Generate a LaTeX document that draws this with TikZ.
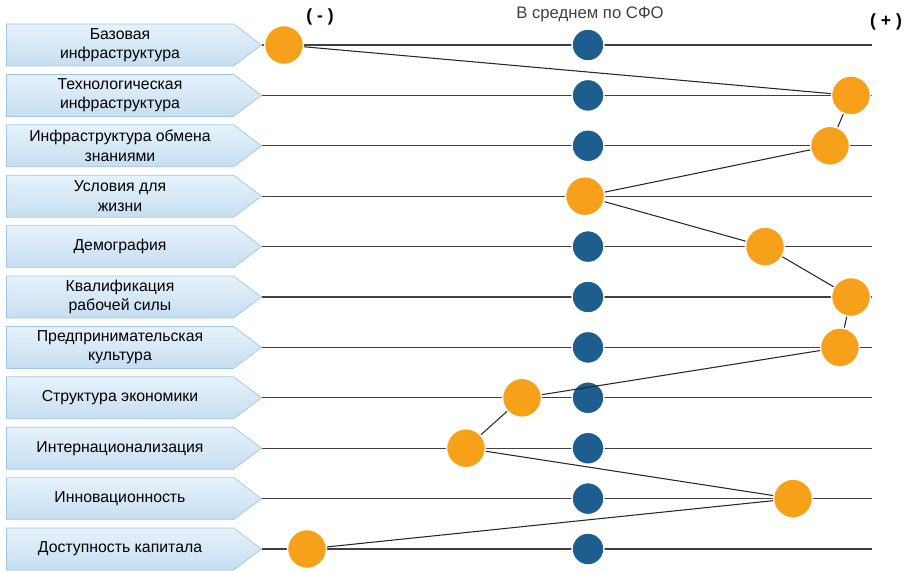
\documentclass[tikz,border=0pt]{standalone}
\usepackage{fontspec}
\setmainfont{Liberation Sans}
\usetikzlibrary{shapes.symbols}

\definecolor{boxtop}{HTML}{E6F2FB}
\definecolor{boxbot}{HTML}{C6DEF1}
\definecolor{boxline}{HTML}{9FC6E4}
\definecolor{sfoblue}{HTML}{1D5E8E}
\definecolor{regorange}{HTML}{F7A11B}

\tikzset{
  factor/.style={signal, signal to=east, signal pointer angle=74,
    draw=boxline, top color=boxtop, bottom color=boxbot,
    minimum width=5.1cm, minimum height=0.84cm, inner sep=1pt,
    align=center, anchor=east},
  rowline/.style={draw=black!75, line width=0.6pt},
  sfo/.style={circle, fill=sfoblue, draw=white, line width=0.8pt,
    minimum size=6.4mm, inner sep=0pt},
  region/.style={circle, fill=regorange, draw=white, line width=0.8pt,
    minimum size=7.8mm, inner sep=0pt},
  link/.style={draw=black!85, line width=0.6pt}
}

\begin{document}
\begin{tikzpicture}[x=0.2mm, y=-0.2mm, font=\fontsize{9}{11}\selectfont]
  \useasboundingbox (0,0) rectangle (911,571);

  \foreach \i/\txt/\ox in {1/{Базовая\\инфраструктура}/284,
      2/{Технологическая\\инфраструктура}/851,
      3/{Инфраструктура обмена\\знаниями}/830,
      4/{Условия для\\жизни}/585,
      5/{Демография}/765,
      6/{Квалификация\\рабочей силы}/851,
      7/{Предпринимательская\\культура}/840,
      8/{Структура экономики}/522,
      9/{Интернационализация}/466,
      10/{Инновационность}/793,
      11/{Доступность капитала}/307}{
    \pgfmathsetmacro{\yy}{45+50.4*(\i-1)}
    \node[factor] (l\i) at (262,\yy) {\txt};
    \coordinate (e\i) at (872,\yy);
    \draw[rowline] (l\i.east) -- (e\i);
    \node[sfo] (b\i) at (588,\yy) {};
    \node[region] (o\i) at (\ox,\yy) {};
  }

  \draw[link] (o1) -- (o2) -- (o3) -- (o4) -- (o5) -- (o6) -- (o7)
    -- (o8) -- (o9) -- (o10) -- (o11);

  \node[font=\fontsize{10}{12}\selectfont\bfseries] (minus) at (320,17) {( - )};
  \node[font=\fontsize{10}{12}\selectfont\bfseries] (plus) at (886,22) {( + )};
  \node[font=\fontsize{9.5}{11}\selectfont, text=black!75] (avg) at (590,14) {В среднем по СФО};
\end{tikzpicture}
\end{document}
